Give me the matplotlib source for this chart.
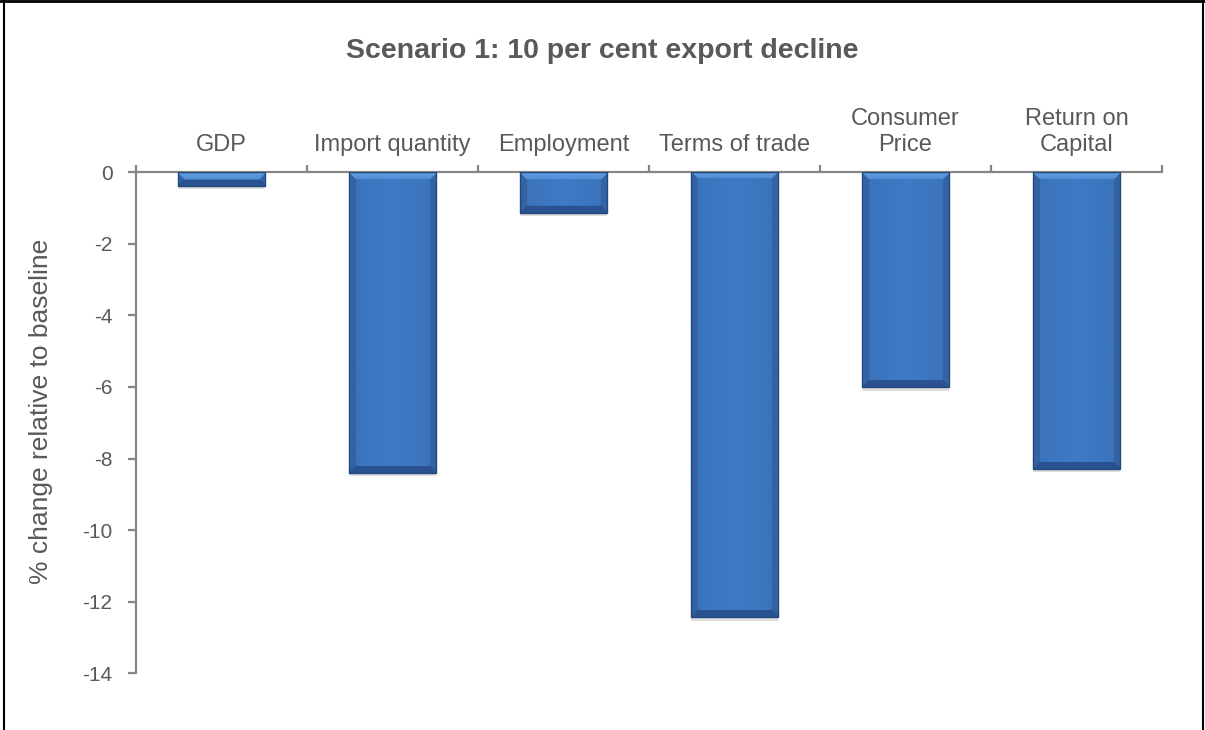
import numpy as np
import matplotlib.pyplot as plt
from matplotlib.lines import Line2D
from matplotlib.colors import to_rgb

categories = ['GDP', 'Import quantity', 'Employment', 'Terms of trade',
              'Consumer\nPrice', 'Return on\nCapital']
values = [-0.37, -8.39, -1.13, -12.44, -6.0, -8.28]
yticks = [0, -2, -4, -6, -8, -10, -12, -14]

TEXT = '#595959'
AXIS = '#868686'

plt.rcParams['font.family'] = ['Liberation Sans', 'DejaVu Sans']
plt.rcParams['axes.unicode_minus'] = False

fig = plt.figure(figsize=(12.05, 7.30), dpi=100)
ax = fig.add_axes([0.1129, 0.0777, 0.8514, 0.6863])

x = np.arange(len(categories))
ax.set_xlim(-0.5, len(categories) - 0.5)
ax.set_ylim(-14, 0)

width = 0.51
bars = ax.bar(x, values, width=width, color='none', edgecolor='#23487c',
              linewidth=1.0, zorder=3)

# excel-ish bevel fill, built in pixel units so the bevel is even
top_c = np.array(to_rgb('#5f9de3'))
side_c = np.array(to_rgb('#3463a4'))
bot_c = np.array(to_rgb('#2a5290'))
mid_c = np.array(to_rgb('#3b73ba'))
fig.canvas.draw()
for bar, v in zip(bars, values):
    (px0, py0), (px1, py1) = ax.transData.transform(
        [(bar.get_x(), 0), (bar.get_x() + bar.get_width(), v)])
    w = max(int(round(abs(px1 - px0))), 2)
    h = max(int(round(abs(py1 - py0))), 2)
    b = 7
    img = np.zeros((h, w, 3))
    for i in range(h):
        for j in range(w):
            dt, db, dl, dr = i, h - 1 - i, j, w - 1 - j
            m = min(dt, db, dl, dr)
            if m >= b:
                u = j / (w - 1)
                img[i, j] = mid_c * (1.0 + 0.06 * (1 - abs(2 * u - 1)))
            elif m == dt:
                img[i, j] = top_c * (1 - 0.4 * dt / b) + mid_c * 0.4 * dt / b
            elif m == db:
                img[i, j] = bot_c
            else:
                img[i, j] = side_c
    img = np.clip(img, 0, 1)
    # soft shadow under the bar
    ax.bar(bar.get_x() + bar.get_width() / 2, -0.12, width=width,
           bottom=v + 0.02, color='#c8c8c8', alpha=0.6, linewidth=0, zorder=2)
    im = ax.imshow(img, extent=(bar.get_x(), bar.get_x() + bar.get_width(), v, 0),
                   aspect='auto', interpolation='bilinear', zorder=2.5)
    im.set_clip_path(bar)

ax.set_xlim(-0.5, len(categories) - 0.5)
ax.set_ylim(-14, 0)

for s in ['right', 'bottom']:
    ax.spines[s].set_visible(False)
for s in ['left', 'top']:
    ax.spines[s].set_color(AXIS)
    ax.spines[s].set_linewidth(1.6)

ax.xaxis.tick_top()
ax.set_xticks(x)
ax.set_xticklabels(categories)
ax.set_xticks(np.arange(-0.5, len(categories), 1), minor=True)
ax.tick_params(axis='x', which='major', length=0, pad=12,
               labelsize=17, labelcolor=TEXT)
ax.tick_params(axis='x', which='minor', length=5, width=1.6, color=AXIS,
               direction='out')

ax.set_yticks(yticks)
ax.tick_params(axis='y', length=6, width=1.6, color=AXIS, pad=11,
               labelsize=15, labelcolor=TEXT)

fig.text(0.5, 1 - 51 / 730, 'Scenario 1: 10 per cent export decline',
         ha='center', va='center', fontsize=20.5, fontweight='bold', color=TEXT)
fig.text(41 / 1205, 1 - 411 / 730, '% change relative to baseline',
         rotation=90, ha='center', va='center', fontsize=19, color=TEXT)

# outer chart frame (bottom edge is cropped off in the original)
fig.add_artist(Line2D([3.5 / 1205, 3.5 / 1205], [0, 1], color='black', lw=1.5))
fig.add_artist(Line2D([1202.5 / 1205, 1202.5 / 1205], [0, 1], color='black', lw=1.5))
fig.add_artist(Line2D([0, 1], [1 - 1 / 730, 1 - 1 / 730], color='black', lw=2))

fig.savefig('out.png', dpi=100)
